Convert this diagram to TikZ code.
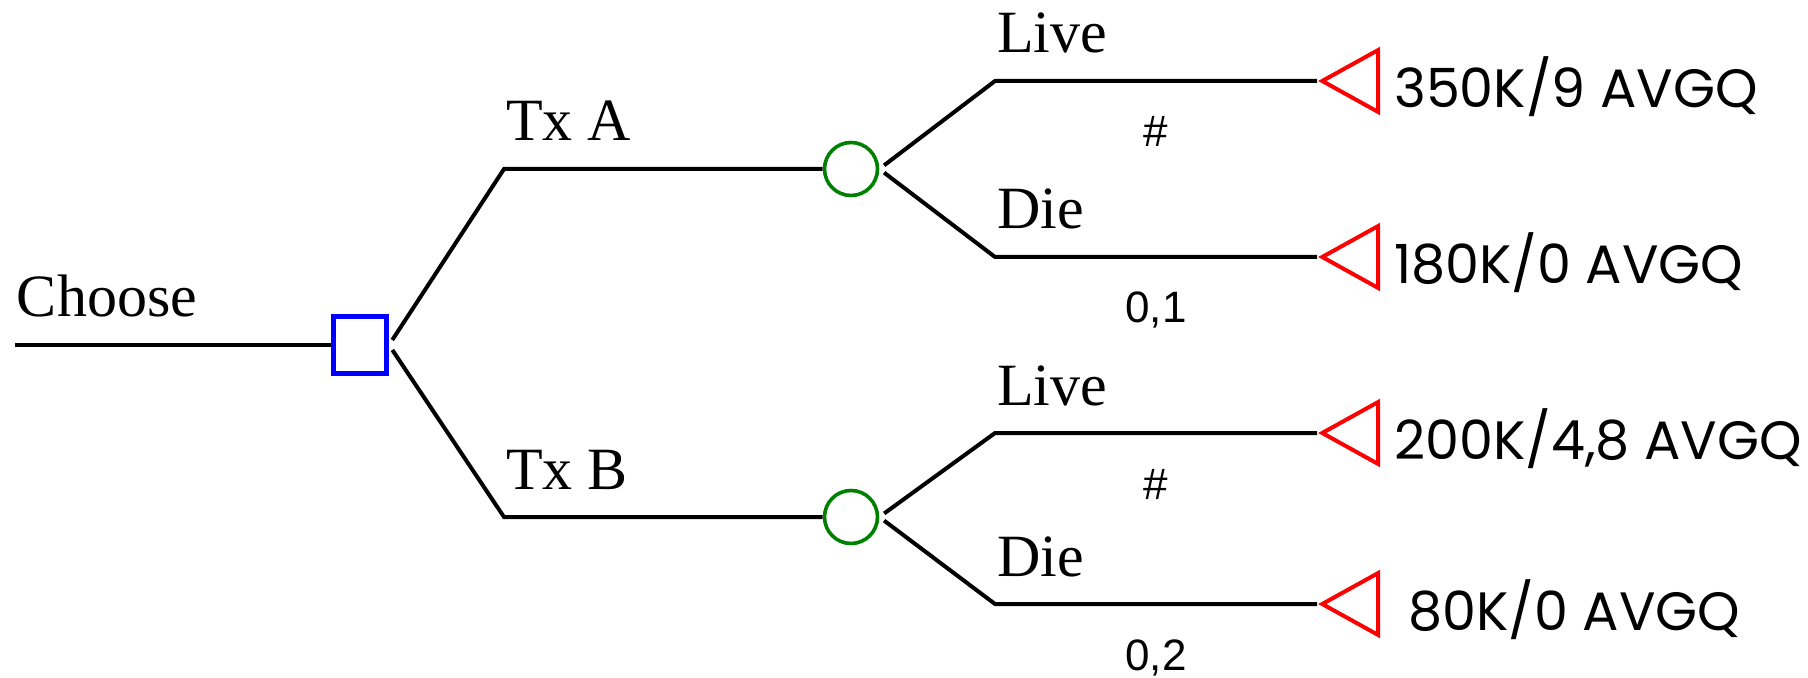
\documentclass[tikz,border=0pt]{standalone}
\usepackage{fontspec}
\setmainfont{Liberation Serif}
\newfontfamily\payofffont{Poppins}
\newfontfamily\probfont{Liberation Sans}
\usetikzlibrary{shapes.geometric,positioning}
\definecolor{decblue}{RGB}{0,0,255}
\definecolor{chancegreen}{RGB}{0,128,0}
\definecolor{endred}{RGB}{255,0,0}

\begin{document}
\begin{tikzpicture}[x=0.5pt,y=-0.5pt,
					line width=2pt,
					decision node/.style={rectangle,draw=decblue,line width=2.5pt,minimum width=26.5pt,minimum height=28.5pt,inner sep=0pt},
					chance node/.style={circle,draw=chancegreen,line width=1.8pt,minimum size=26.5pt,inner sep=0pt},
					end node/.style={isosceles triangle,shape border rotate=180,isosceles triangle stretches,draw=endred,minimum width=31pt,minimum height=28pt,inner sep=0pt,anchor=apex},
					branch label/.style={font=\fontsize{30}{30}\selectfont,anchor=base west,yshift=14pt,inner sep=0pt},
					prob label/.style={font=\probfont\fontsize{22}{22}\selectfont,anchor=base,yshift=-33pt,inner sep=0pt},
					payoff/.style={font=\payofffont\fontsize{27}{27}\selectfont,inner sep=0pt,yshift=-3pt}]

  \useasboundingbox (0,0) rectangle (1808,678);

  % decision and chance points
  \coordinate (root) at (15,345);
  \node[decision node] (dec) at (360,345) {};
  \coordinate (txA) at (504,169);
  \coordinate (txB) at (504,517);
  \node[chance node] (chA) at (851,169) {};
  \node[chance node] (chB) at (851,517) {};

  % outcomes
  \coordinate (liveA) at (995,81);
  \coordinate (dieA) at (995,257);
  \coordinate (liveB) at (995,433);
  \coordinate (dieB) at (995,604);
  \node[end node] (endLA) at (1317,81) {};
  \node[end node] (endDA) at (1317,257) {};
  \node[end node] (endLB) at (1317,433) {};
  \node[end node] (endDB) at (1317,604) {};

  \node[payoff] (payLA) [right=6pt of endLA] {350K/9 AVGQ};
  \node[payoff] (payDA) [right=6pt of endDA] {180K/0 AVGQ};
  \node[payoff] (payLB) [right=6pt of endLB] {200K/4,8 AVGQ};
  \node[payoff] (payDB) [right=13pt of endDB] {80K/0 AVGQ};

  \draw (root) -- node[branch label,pos=0] {Choose} (dec);

  \draw[shorten <=3pt] (dec.east) -- (txA) -- node[branch label,pos=0] {Tx A} (chA);
  \draw[shorten <=3pt] (dec.east) -- (txB) -- node[branch label,pos=0] {Tx B} (chB);

  \draw[shorten <=3pt] (chA.east) -- (liveA)
    -- node[branch label,pos=0] {Live} node[prob label,midway] {\#} (endLA.apex);
  \draw[shorten <=3pt] (chA.east) -- (dieA)
    -- node[branch label,pos=0] {Die} node[prob label,midway] {0,1} (endDA.apex);
  \draw[shorten <=3pt] (chB.east) -- (liveB)
    -- node[branch label,pos=0] {Live} node[prob label,midway] {\#} (endLB.apex);
  \draw[shorten <=3pt] (chB.east) -- (dieB)
    -- node[branch label,pos=0] {Die} node[prob label,midway] {0,2} (endDB.apex);
\end{tikzpicture}
\end{document}
